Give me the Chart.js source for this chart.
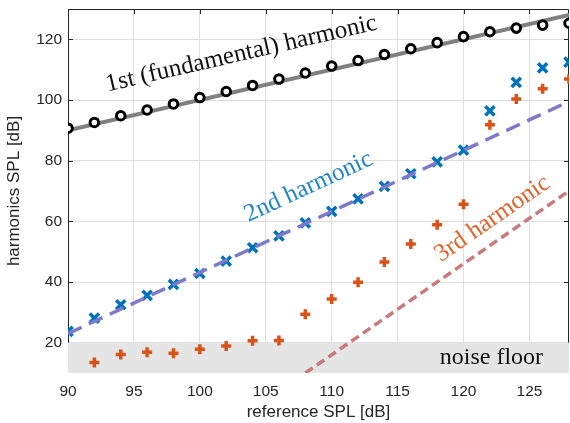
<!DOCTYPE html>
<html>
<head>
<meta charset="utf-8">
<script src="https://cdn.jsdelivr.net/npm/chart.js@4/dist/chart.umd.min.js"></script>
<style>
  html, body { margin: 0; padding: 0; background: #fff; }
  #chart { display: block; }
</style>
</head>
<body>
<canvas id="chart" width="570" height="423"></canvas>
<script>
// reference SPL steps [dB]
const refSPL = [90, 92, 94, 96, 98, 100, 102, 104, 106, 108, 110, 112, 114, 116, 118, 120, 122, 124, 126, 128];

// measured harmonic levels [dB]
const firstHarmonic = [90.7, 92.6, 94.8, 96.7, 98.7, 100.8, 102.8, 104.8, 106.9, 108.9, 111.2, 113.0, 115.0, 116.9, 118.9, 120.9, 122.5, 123.7, 124.7, 125.3];
const secondHarmonic = [23.7, 28.1, 32.5, 35.6, 39.2, 42.8, 46.9, 51.3, 55.2, 59.5, 63.3, 67.4, 71.5, 75.7, 79.6, 83.5, 96.4, 105.8, 110.6, 112.5];
const thirdHarmonic = [null, 13.5, 16.1, 16.8, 16.5, 17.8, 18.9, 20.6, 20.7, 29.4, 34.4, 39.9, 46.6, 52.5, 58.9, 65.6, 91.8, 100.3, 103.7, 106.9];

// ideal slopes (1, 2 and 3 dB per dB)
const fit1X = [90, 128];
const fit1Y = [90, 128];
const fit2X = [90, 128];
const fit2Y = [23, 99.5];
const fit3X = [108, 128];
const fit3Y = [10, 70];

// noise floor
const noiseX = [90, 128];
const noiseY = [20, 20];

const xTicks = [90, 95, 100, 105, 110, 115, 120, 125];
const yTicks = [20, 40, 60, 80, 100, 120];

// labels along the lines: text, start point (data units), fit line to follow
const notes = [
    { text: '1st (fundamental) harmonic', x: 93, y: 102.8, fx: fit1X, fy: fit1Y, color: '#111111', size: 25 },
    { text: '2nd harmonic', x: 103.7, y: 59.8, fx: fit2X, fy: fit2Y, color: '#1f86cc', size: 25 },
    { text: '3rd harmonic', x: 118.3, y: 46.5, fx: fit3X, fy: fit3Y, color: '#e0642c', size: 25 },
    { text: 'noise floor', x: 118.2, y: 13.0, fx: null, fy: null, color: '#111111', size: 24 }
];

const pts = (xv, yv) => xv.map((x, i) => ({ x: x, y: yv[i] }));

const axisColor = '#262626';
const gridColor = '#dedede';
const serif = '"Liberation Serif", "DejaVu Serif", serif';
const sans = '"Liberation Sans", Arial, sans-serif';

// fixed axis box sizes, no extra label padding
function fixSize(prop, size) {
    return s => {
        s[prop] = size;
        s.paddingLeft = s.paddingRight = s.paddingTop = s.paddingBottom = 0;
    };
}

// box with inward ticks, drawn before the datasets so the noise band covers it
const boxPlugin = {
    id: 'box',
    beforeDatasetsDraw(chart) {
        const { ctx, chartArea: a, scales } = chart;
        ctx.save();
        ctx.strokeStyle = axisColor;
        ctx.lineWidth = 1;
        ctx.beginPath();
        ctx.rect(a.left + 0.5, a.top + 0.5, a.right - a.left - 1, a.bottom - a.top - 1);
        const len = 5;
        xTicks.forEach(v => {
            const px = Math.round(scales.x.getPixelForValue(v)) + 0.5;
            ctx.moveTo(px, a.top); ctx.lineTo(px, a.top + len);
            ctx.moveTo(px, a.bottom); ctx.lineTo(px, a.bottom - len);
        });
        yTicks.forEach(v => {
            const py = Math.round(scales.y.getPixelForValue(v)) + 0.5;
            ctx.moveTo(a.left, py); ctx.lineTo(a.left + len, py);
            ctx.moveTo(a.right, py); ctx.lineTo(a.right - len, py);
        });
        ctx.stroke();
        ctx.restore();
    },
    afterDatasetsDraw(chart) {
        const { ctx, scales } = chart;
        const xs = scales.x, ys = scales.y;
        ctx.save();
        ctx.textAlign = 'left';
        ctx.textBaseline = 'alphabetic';
        notes.forEach(n => {
            let angle = 0;
            if (n.fx) {
                const dx = xs.getPixelForValue(n.fx[1]) - xs.getPixelForValue(n.fx[0]);
                const dy = ys.getPixelForValue(n.fy[1]) - ys.getPixelForValue(n.fy[0]);
                angle = Math.atan2(dy, dx);
            }
            ctx.save();
            ctx.translate(xs.getPixelForValue(n.x), ys.getPixelForValue(n.y));
            ctx.rotate(angle);
            ctx.font = n.size + 'px ' + serif;
            ctx.fillStyle = n.color;
            ctx.fillText(n.text, 0, 0);
            ctx.restore();
        });
        ctx.restore();
    }
};

new Chart(document.getElementById('chart'), {
    type: 'line',
    data: {
        datasets: [
            {
                label: '2nd fit',
                data: pts(fit2X, fit2Y),
                borderColor: '#7d7acb',
                borderWidth: 3.5,
                borderDash: [15, 8],
                pointRadius: 0,
                fill: false,
                order: 0
            },
            {
                label: '3rd fit',
                data: pts(fit3X, fit3Y),
                borderColor: '#c97b7b',
                borderWidth: 3.5,
                borderDash: [9, 5],
                pointRadius: 0,
                fill: false,
                order: 1
            },
            {
                label: '2nd harmonic',
                data: pts(refSPL, secondHarmonic),
                showLine: false,
                pointStyle: 'crossRot',
                pointRadius: 6.5,
                pointBorderWidth: 3.5,
                pointBorderColor: '#0072bd',
                pointBackgroundColor: '#0072bd',
                order: 2
            },
            {
                label: '3rd harmonic',
                data: pts(refSPL, thirdHarmonic),
                showLine: false,
                pointStyle: 'cross',
                pointRadius: 5,
                pointBorderWidth: 3.5,
                pointBorderColor: '#d95319',
                pointBackgroundColor: '#d95319',
                order: 3
            },
            {
                label: '1st harmonic',
                data: pts(refSPL, firstHarmonic),
                showLine: false,
                pointStyle: 'circle',
                pointRadius: 4.3,
                pointBorderWidth: 3,
                pointBorderColor: '#000000',
                pointBackgroundColor: '#ffffff',
                order: 4
            },
            {
                label: '1st fit',
                data: pts(fit1X, fit1Y),
                borderColor: '#808080',
                borderWidth: 4,
                pointRadius: 0,
                fill: false,
                order: 5
            },
            {
                label: 'noise floor',
                data: pts(noiseX, noiseY),
                borderWidth: 0,
                borderColor: 'rgba(0,0,0,0)',
                backgroundColor: '#e5e5e5',
                pointRadius: 0,
                fill: 'start',
                order: 10
            }
        ]
    },
    options: {
        responsive: false,
        devicePixelRatio: 1,
        animation: false,
        layout: { autoPadding: false, padding: { top: 9, right: 1, left: 0, bottom: 0 } },
        plugins: {
            legend: { display: false },
            tooltip: { enabled: false }
        },
        scales: {
            x: {
                type: 'linear',
                min: 90,
                max: 128,
                afterBuildTicks: s => { s.ticks = xTicks.map(v => ({ value: v })); },
                afterFit: fixSize('height', 50),
                border: { display: false },
                grid: { color: gridColor, drawTicks: false },
                ticks: { color: axisColor, font: { family: sans, size: 15.5 }, padding: 9 },
                title: {
                    display: true,
                    text: 'reference SPL [dB]',
                    color: axisColor,
                    font: { family: sans, size: 17 },
                    padding: { top: 2, bottom: 0 }
                }
            },
            y: {
                type: 'linear',
                min: 10,
                max: 130,
                afterBuildTicks: s => { s.ticks = yTicks.map(v => ({ value: v })); },
                afterFit: fixSize('width', 68),
                border: { display: false },
                grid: { color: gridColor, drawTicks: false },
                ticks: { color: axisColor, font: { family: sans, size: 15.5 }, padding: 6 },
                title: {
                    display: true,
                    text: 'harmonics SPL [dB]',
                    color: axisColor,
                    font: { family: sans, size: 17 },
                    padding: { top: 4, bottom: 0 }
                }
            }
        }
    },
    plugins: [boxPlugin]
});
</script>
</body>
</html>
